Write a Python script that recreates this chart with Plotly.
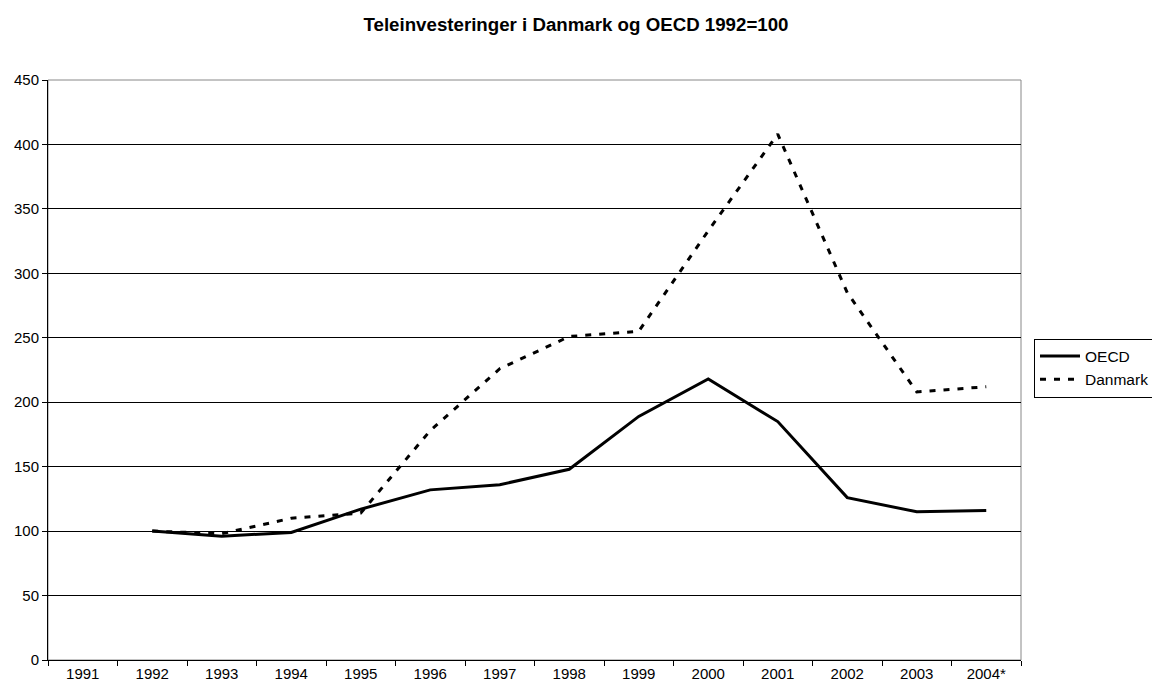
import plotly.graph_objects as go

years = ["1991", "1992", "1993", "1994", "1995", "1996", "1997", "1998", "1999",
         "2000", "2001", "2002", "2003", "2004*"]
data_years = years[1:]
oecd = [100, 96, 99, 117, 132, 136, 148, 189, 218, 185, 126, 115, 116]
danmark = [100, 98, 110, 114, 178, 226, 251, 255, 333, 408, 285, 208, 212]
y_ticks = [0, 50, 100, 150, 200, 250, 300, 350, 400, 450]

fig = go.Figure()
fig.add_trace(go.Scatter(x=data_years, y=oecd, name="OECD", mode="lines",
                         line=dict(color="black", width=3)))
fig.add_trace(go.Scatter(x=data_years, y=danmark, name="Danmark", mode="lines",
                         line=dict(color="black", width=3, dash="6px,8px")))

fig.add_shape(type="rect", xref="paper", yref="paper", x0=0, x1=1, y0=0, y1=1,
              line=dict(color="#888888", width=1), layer="below")

fig.update_layout(
    width=1160, height=690,
    margin=dict(l=40, r=147, t=72, b=38, autoexpand=False),
    paper_bgcolor="white", plot_bgcolor="white",
    font=dict(family="Arial, Liberation Sans, sans-serif", size=15, color="black"),
    title=dict(text="<b>Teleinvesteringer i Danmark og OECD 1992=100</b>",
               x=568 / 1160, xref="container", xanchor="center",
               y=1 - 16.5 / 690, yref="container", yanchor="middle",
               font=dict(size=18.7, color="black")),
    showlegend=True,
    legend=dict(x=1026 / 1160, xref="container", xanchor="left",
                y=1 - 360 / 690, yref="container", yanchor="middle",
                bordercolor="black", borderwidth=1, bgcolor="white",
                font=dict(size=15.5), tracegroupgap=0, itemwidth=40),
)
fig.update_xaxes(type="category", categoryorder="array", categoryarray=years,
                 range=[-0.5, len(years) - 0.5], tickson="boundaries",
                 ticks="outside", ticklen=5, tickcolor="black",
                 showline=True, linecolor="black", linewidth=1,
                 showgrid=False, zeroline=False, fixedrange=True, automargin=False)
fig.update_yaxes(range=[0, 450], tickvals=y_ticks, ticks="outside", ticklen=5,
                 tickcolor="black", showline=True, linecolor="black", linewidth=1,
                 showgrid=True, gridcolor="black", gridwidth=1, zeroline=False,
                 fixedrange=True, automargin=False)

fig.write_html("out.html")
